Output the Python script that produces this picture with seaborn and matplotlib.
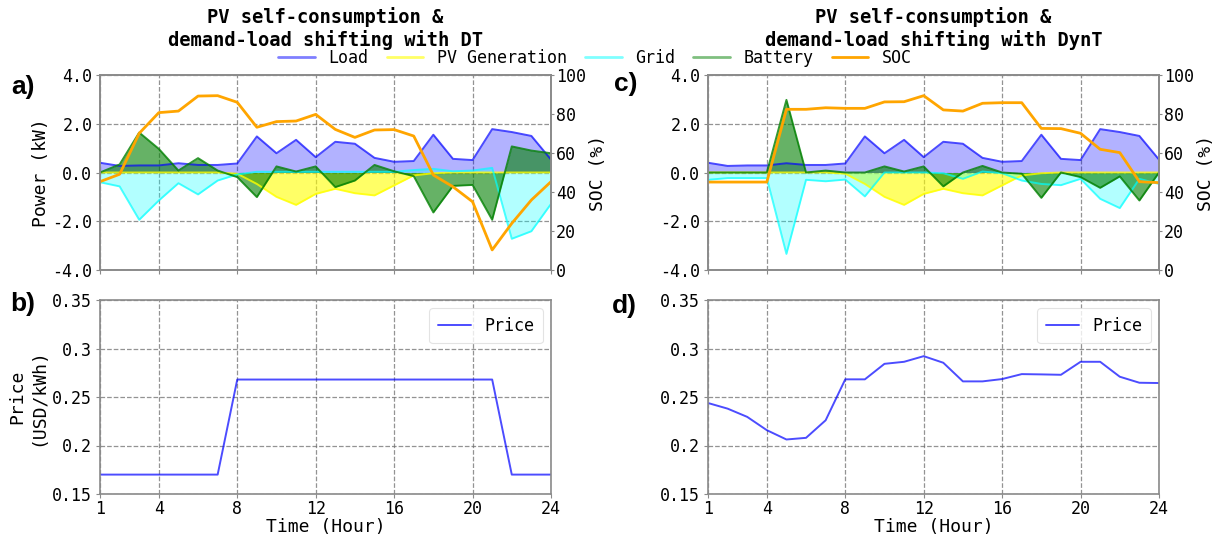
import matplotlib
matplotlib.use("Agg")
import matplotlib.pyplot as plt
from matplotlib.lines import Line2D
from matplotlib.ticker import FuncFormatter, MultipleLocator
import seaborn as sns

# ---- hourly data -------------------------------------------------------
hours = list(range(1, 25))
hour_ticks = [1, 4, 8, 12, 16, 20, 24]

load = [0.40, 0.27, 0.29, 0.29, 0.38, 0.31, 0.31, 0.37, 1.48, 0.79, 1.34, 0.63,
        1.26, 1.18, 0.60, 0.44, 0.47, 1.55, 0.56, 0.51, 1.78, 1.66, 1.50, 0.53]
pv = [0.0, 0.0, 0.0, 0.0, 0.0, 0.0, 0.0, -0.05, -0.47, -1.00, -1.33, -0.88,
      -0.67, -0.85, -0.94, -0.53, -0.12, -0.03, 0.0, 0.0, 0.0, 0.0, 0.0, 0.0]

# DT (time-of-use tariff) case
grid_dt = [-0.40, -0.57, -1.94, -1.15, -0.44, -0.90, -0.33, -0.08, 0.03, 0.03, 0.03, 0.03,
           0.03, 0.03, 0.03, 0.03, 0.10, 0.15, 0.05, 0.08, 0.19, -2.72, -2.41, -1.29]
battery_dt = [0.0, 0.33, 1.64, 0.97, 0.08, 0.59, 0.08, -0.19, -1.01, 0.25, 0.04, 0.25,
              -0.60, -0.33, 0.31, 0.05, -0.15, -1.64, -0.55, -0.51, -1.94, 1.07, 0.90, 0.79]
soc_dt = [45.3, 49.1, 70.1, 80.7, 81.5, 89.2, 89.4, 86.0, 73.2, 76.1, 76.4, 79.8,
          72.1, 68.0, 71.8, 72.0, 68.7, 48.7, 42.7, 35.0, 10.3, 23.9, 35.9, 45.3]
price_dt = [0.17, 0.17, 0.17, 0.17, 0.17, 0.17, 0.17, 0.268, 0.268, 0.268, 0.268, 0.268,
            0.268, 0.268, 0.268, 0.268, 0.268, 0.268, 0.268, 0.268, 0.268, 0.17, 0.17, 0.17]

# DynT (dynamic tariff) case
grid_dyn = [-0.30, -0.23, -0.23, -0.23, -3.34, -0.30, -0.36, -0.29, -0.98, 0.0, 0.0, 0.0,
            -0.03, -0.26, 0.04, -0.03, -0.33, -0.47, -0.52, -0.26, -1.08, -1.46, -0.26, -0.47]
battery_dyn = [0.0, 0.0, 0.0, 0.0, 2.98, 0.0, 0.08, 0.0, 0.0, 0.25, 0.04, 0.25,
               -0.57, 0.0, 0.27, 0.0, -0.05, -1.04, 0.0, -0.19, -0.63, -0.16, -1.15, 0.0]
soc_dyn = [45.1, 45.1, 45.1, 45.1, 82.4, 82.4, 83.2, 82.9, 82.9, 86.2, 86.3, 89.4,
           82.1, 81.5, 85.5, 85.8, 85.8, 72.6, 72.5, 70.1, 61.9, 60.2, 45.3, 44.8]
price_dyn = [0.2438, 0.2380, 0.2295, 0.2158, 0.2062, 0.2079, 0.2260, 0.2682, 0.2682, 0.2842,
             0.2863, 0.2921, 0.2853, 0.2661, 0.2661, 0.2685, 0.2736, 0.2733, 0.2729, 0.2863,
             0.2863, 0.2709, 0.2647, 0.2644]

titles = ["PV self-consumption &\ndemand-load shifting with DT",
          "PV self-consumption &\ndemand-load shifting with DynT"]
panel_tags = ["a)", "b)", "c)", "d)"]
series_names = ["Load", "PV Generation", "Grid", "Battery", "SOC"]

# ---- style ---------------------------------------------------------------
sns.set_style("ticks", {"axes.edgecolor": "#8a8a8a",
                        "xtick.color": "#8a8a8a", "ytick.color": "#8a8a8a",
                        "text.color": "black", "axes.labelcolor": "black"})
plt.rcParams["font.family"] = ["DejaVu Sans Mono", "DejaVu Sans"]
plt.rcParams["xtick.labelcolor"] = "black"
plt.rcParams["ytick.labelcolor"] = "black"
plt.rcParams["axes.linewidth"] = 1.2
plt.rcParams["xtick.labelsize"] = 12
plt.rcParams["ytick.labelsize"] = 12
plt.rcParams["xtick.major.size"] = 3
plt.rcParams["ytick.major.size"] = 3
plt.rcParams["xtick.major.pad"] = 1.5
plt.rcParams["ytick.major.pad"] = 2.5

C_LOAD, C_PV, C_GRID, C_BAT, C_SOC = "blue", "yellow", "cyan", "green", "orange"

fig = plt.figure(figsize=(12.18, 5.37), dpi=100)
W, H = 1218, 537


def add_axes(x0, x1, y0, y1):
    return fig.add_axes([x0 / W, 1 - y1 / H, (x1 - x0) / W, (y1 - y0) / H])


def style_grid(ax):
    ax.grid(True, linestyle="--", color="#6f6f6f", linewidth=0.9, alpha=0.75)
    ax.set_axisbelow(True)


def power_panel(ax, grid, battery, soc, title, show_ylabel):
    ax.fill_between(hours, 0, load, color=C_LOAD, alpha=0.3, linewidth=0)
    ax.fill_between(hours, 0, pv, color=C_PV, alpha=0.6, linewidth=0)
    ax.fill_between(hours, 0, grid, color=C_GRID, alpha=0.3, linewidth=0)
    ax.fill_between(hours, 0, battery, color=C_BAT, alpha=0.6, linewidth=0)
    sns.lineplot(x=hours, y=load, ax=ax, color=C_LOAD, alpha=0.7, linewidth=1.4)
    sns.lineplot(x=hours, y=pv, ax=ax, color=C_PV, alpha=0.8, linewidth=1.4)
    sns.lineplot(x=hours, y=grid, ax=ax, color=C_GRID, alpha=0.7, linewidth=1.4)
    sns.lineplot(x=hours, y=battery, ax=ax, color=C_BAT, alpha=0.8, linewidth=1.4)
    ax.set_xlim(1, 24)
    ax.set_ylim(-4, 4)
    ax.set_xticks(hour_ticks)
    ax.set_xticklabels([])
    ax.yaxis.set_major_locator(MultipleLocator(2))
    ax.yaxis.set_major_formatter(FuncFormatter(lambda v, _: f"{v:.1f}"))
    style_grid(ax)
    ax.set_ylabel("Power (kW)" if show_ylabel else "", fontsize=13, labelpad=2)
    ax.set_title(title, fontsize=13.5, fontweight="bold", pad=21, color="black")

    ax2 = ax.twinx()
    sns.lineplot(x=hours, y=soc, ax=ax2, color=C_SOC, linewidth=2)
    ax2.set_ylim(0, 100)
    ax2.set_yticks([0, 20, 40, 60, 80, 100])
    ax2.tick_params(axis="y", length=2, pad=1.5)
    ax2.set_ylabel("SOC (%)", fontsize=13, labelpad=2)
    ax2.grid(False)
    for s in ax2.spines.values():
        s.set_color("#8a8a8a")
    return ax2


def price_panel(ax, price, show_ylabel):
    sns.lineplot(x=hours, y=price, ax=ax, color=C_LOAD, alpha=0.7, linewidth=1.4,
                 label="Price")
    ax.set_xlim(1, 24)
    ax.set_ylim(0.15, 0.35)
    ax.set_xticks(hour_ticks)
    ax.set_yticks([0.15, 0.2, 0.25, 0.3, 0.35])
    ax.yaxis.set_major_formatter(FuncFormatter(lambda v, _: f"{v:g}"))
    style_grid(ax)
    ax.set_xlabel("Time (Hour)", fontsize=13, labelpad=0)
    ax.set_ylabel("Price\n(USD/kWh)" if show_ylabel else "", fontsize=13, labelpad=4)
    leg = ax.legend(loc="upper right", fontsize=12, frameon=True, fancybox=True,
                    borderpad=0.5)
    leg.get_frame().set_edgecolor("#dddddd")
    leg.get_frame().set_linewidth(0.8)


ax_a = add_axes(100, 551, 75, 270)
ax_b = add_axes(100, 551, 300, 494)
ax_c = add_axes(708, 1159, 75, 270)
ax_d = add_axes(708, 1159, 300, 494)

power_panel(ax_a, grid_dt, battery_dt, soc_dt, titles[0], True)
power_panel(ax_c, grid_dyn, battery_dyn, soc_dyn, titles[1], False)
price_panel(ax_b, price_dt, True)
price_panel(ax_d, price_dyn, False)

# shared legend for the power panels
handles = [Line2D([], [], color=C_LOAD, alpha=0.5, linewidth=2),
           Line2D([], [], color=C_PV, alpha=0.6, linewidth=2),
           Line2D([], [], color=C_GRID, alpha=0.5, linewidth=2),
           Line2D([], [], color=C_BAT, alpha=0.5, linewidth=2),
           Line2D([], [], color=C_SOC, linewidth=2)]
fig.legend(handles, series_names, loc="center", bbox_to_anchor=(595 / W, 1 - 58 / H),
           ncol=5, frameon=False, fontsize=12, columnspacing=1.1, handletextpad=0.8,
           handlelength=2.2)

# panel tags
for tag, (px, py) in zip(panel_tags, [(23, 87), (23, 304), (626, 84), (624, 306)]):
    fig.text(px / W, 1 - py / H, tag, ha="center", va="center", fontsize=19,
             fontweight="bold", color="black", family=["Liberation Sans", "DejaVu Sans"])

fig.savefig("out.png", dpi=100)
